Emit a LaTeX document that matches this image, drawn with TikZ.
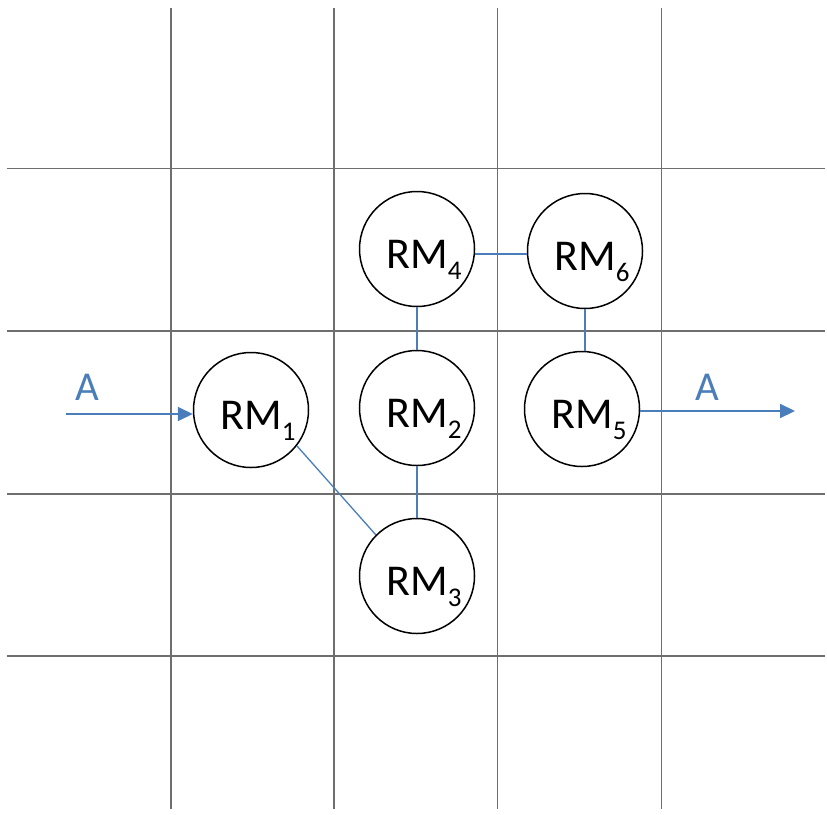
\documentclass[tikz,border=0pt]{standalone}
\usepackage{fontspec}
\setmainfont{Carlito}
\usetikzlibrary{arrows.meta}
\definecolor{gridgray}{RGB}{110,110,110}
\definecolor{flowblue}{RGB}{74,126,187}
\newcommand{\rmlbl}[1]{RM\raisebox{-11pt}{\fontsize{27}{27}\selectfont #1}}
\begin{document}
\begin{tikzpicture}[x=1pt,y=-1pt,
  gridline/.style={draw=gridgray, line width=1.5pt},
  rm/.style={circle, draw=black, line width=1.5pt, fill=white, minimum size=115pt, inner sep=0pt},
  rmlab/.style={font=\fontsize{44}{50}\selectfont, inner sep=0pt, xshift=7pt, yshift=-11pt},
  link/.style={draw=flowblue, line width=1.3pt},
  flow/.style={draw=flowblue, line width=2pt, -{Triangle[length=15pt,width=14pt]}},
  flowlab/.style={text=flowblue, font=\fontsize{41}{48}\selectfont, inner sep=0pt, anchor=base}
]
\useasboundingbox (0,0) rectangle (827,814);
\foreach \x in {171,334,497.5,661.5} \draw[gridline] (\x,8) -- (\x,809);
\foreach \y in {168.5,331,494,656} \draw[gridline] (7,\y) -- (825,\y);

\node[rm, label={[rmlab]center:\rmlbl{1}}] (r1) at (251,410) {};
\node[rm, label={[rmlab]center:\rmlbl{2}}] (r2) at (417,408) {};
\node[rm, label={[rmlab]center:\rmlbl{3}}] (r3) at (417,576) {};
\node[rm, label={[rmlab]center:\rmlbl{4}}] (r4) at (417,249) {};
\node[rm, label={[rmlab]center:\rmlbl{5}}] (r5) at (582,409) {};
\node[rm, label={[rmlab]center:\rmlbl{6}}] (r6) at (585,251) {};

\draw[link] (r4.-5) -- (r4.-5 -| r6.west);
\draw[link] (r4) -- (r2);
\draw[link] (r2) -- (r3);
\draw[link] (r6.south) -- (r6.south |- r5.north);
\draw[link] (r1.-38) -- (r3.135);

\coordinate (ain) at (66,414);
\draw[flow] (ain) -- (ain -| r1.west);
\coordinate (aout) at (795,411);
\draw[flow] (aout -| r5.east) -- (aout);

\node[flowlab] (la) at (87,400.5) {A};
\node[flowlab] (lb) at (707,400.5) {A};
\end{tikzpicture}
\end{document}
